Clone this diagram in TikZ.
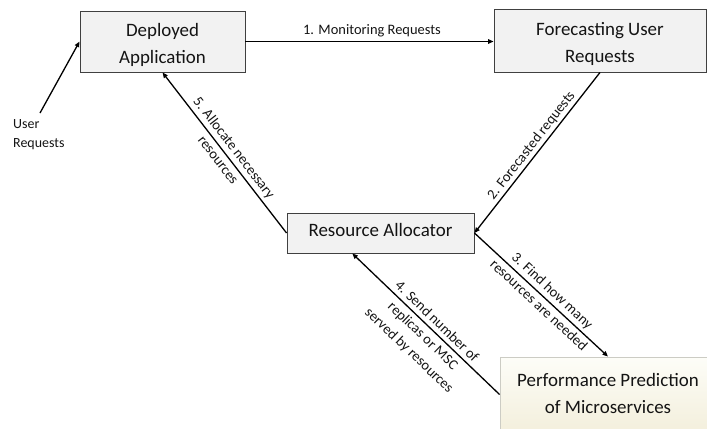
\documentclass[tikz,border=0pt]{standalone}
\usepackage{fontspec}
\setmainfont{Carlito}
\usetikzlibrary{arrows.meta,calc}
\definecolor{boxfill}{RGB}{242,242,242}
\definecolor{boxline}{RGB}{64,64,64}
\definecolor{perfline}{RGB}{204,204,196}
\definecolor{perftop}{RGB}{253,253,248}
\definecolor{perfbot}{RGB}{243,239,220}
\definecolor{ink}{RGB}{20,20,20}
% taller strut for the first line of a box caption, pushing it down a little
\newcommand{\capstrut}{\rule{0pt}{25.5pt}}

\begin{document}
\begin{tikzpicture}[x=1bp,y=-1bp,
  procbox/.style={draw=boxline, line width=0.9bp, fill=boxfill, inner sep=0pt,
    align=center, text=ink, font=\fontsize{19}{27.5}\selectfont},
  predbox/.style={procbox, draw=perfline, top color=perftop, bottom color=perfbot},
  flow/.style={line width=1.3bp, draw=black, -{Triangle[length=5.5bp,width=4.5bp]}},
  lbl/.style={sloped, anchor=center, align=center, inner sep=0pt, text=ink,
    font=\fontsize{14.5}{20}\selectfont},
]
\useasboundingbox (0,0) rectangle (707,428);
\clip (0,0) rectangle (707,428);

% process boxes
\node[procbox, minimum width=165bp, minimum height=61bp] (dep) at (162.5,41.5)
  {\capstrut Deployed\\\strut Application};
\node[procbox, minimum width=212bp, minimum height=63bp] (fore) at (600,40.5)
  {\capstrut Forecasting User\\\strut Requests};
\node[procbox, minimum width=187bp, minimum height=40bp,
  text height=13bp, text depth=7bp] (ra) at (380.5,233)
  {Resource Allocator};
\node[predbox, minimum width=216bp, minimum height=75bp] (perf) at (608,394.5)
  {\strut Performance Prediction\\\strut of Microservices};

% incoming user requests
\node[anchor=north west, align=left, inner sep=0pt, text=ink,
  font=\fontsize{14}{19.5}\selectfont] (usrlbl) at (13,114.5)
  {\strut User\\\strut Requests};
\coordinate (usr) at (40,113);
\draw[flow] (usr) -- (dep.west);

% control loop
\draw[flow] (dep.east) -- (dep.east -| fore.west)
  node[lbl, pos=0.51, yshift=11bp] {\strut 1. Monitoring Requests};
\draw[flow] (fore.south) -- (ra.east)
  node[lbl, pos=0.49, yshift=9bp] {\strut 2. Forecasted requests};
\draw[flow] (ra.east) -- (perf.north)
  node[lbl, pos=0.53] {\strut 3. Find how many\\\strut resources are needed};
\coordinate (raIn) at ($(ra.south west)!0.35!(ra.south east)$);
\draw[flow] (perf.west) -- (raIn)
  node[lbl, pos=0.47, yshift=-11bp]
  {\strut 4. Send number of\\\strut replicas or MSC\\\strut served by resources};
\draw[flow] (ra.west) -- (dep.south)
  node[lbl, pos=0.49] {\strut 5. Allocate necessary\\\strut resources};
\end{tikzpicture}
\end{document}
